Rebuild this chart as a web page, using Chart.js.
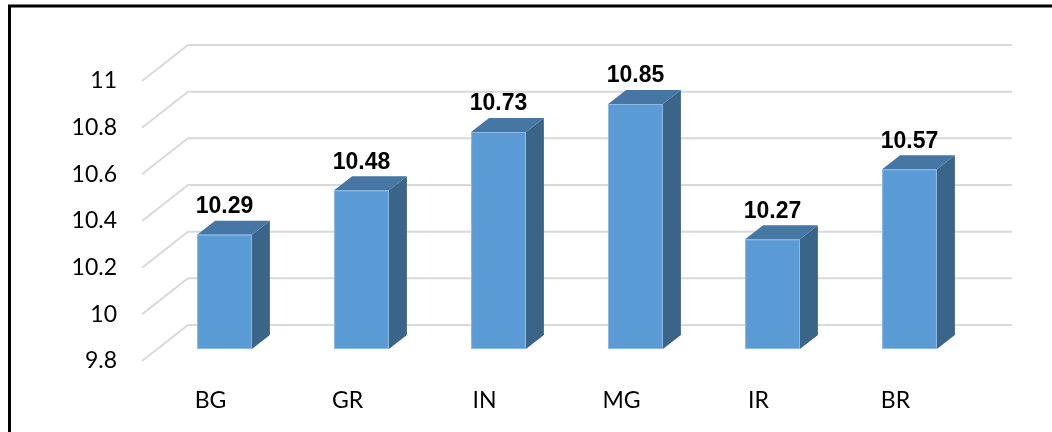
<!DOCTYPE html>
<html>
<head>
<meta charset="utf-8">
<script src="https://cdn.jsdelivr.net/npm/chart.js@4"></script>
<style>
  html, body { margin: 0; padding: 0; background: #fff; }
  #wrap { width: 1052px; height: 432px; }
</style>
</head>
<body>
<div id="wrap"><canvas id="barChart" width="1052" height="432"></canvas></div>
<script>
const categories = ['BG', 'GR', 'IN', 'MG', 'IR', 'BR'];
const values = [10.29, 10.48, 10.73, 10.85, 10.27, 10.57];
const yTicks = [9.8, 10, 10.2, 10.4, 10.6, 10.8, 11];

// 3D look (pixels)
const wallDepth = { x: 46, y: -36 };
const barFront = { x: 14, y: -12 };
const barDepth = { x: 18, y: -14 };

const fontFamily = 'Lato, "Open Sans", sans-serif';
const valueFont = 'bold 23px "Liberation Sans", Arial, sans-serif';

const frame3d = {
    id: 'frame3d',
    beforeDatasetsDraw(chart) {
        const ctx = chart.ctx;
        const area = chart.chartArea;
        const y = chart.scales.y;
        ctx.save();
        // frame
        ctx.strokeStyle = '#000';
        ctx.lineWidth = 3;
        ctx.beginPath();
        ctx.moveTo(9.5, 432);
        ctx.lineTo(9.5, 6);
        ctx.lineTo(1052, 6);
        ctx.stroke();
        // side wall + back wall gridlines
        ctx.strokeStyle = '#d9d9d9';
        ctx.lineWidth = 2;
        yTicks.forEach(t => {
            const py = y.getPixelForValue(t);
            ctx.beginPath();
            ctx.moveTo(area.left, py);
            ctx.lineTo(area.left + wallDepth.x, py + wallDepth.y);
            ctx.lineTo(area.right + wallDepth.x + 2, py + wallDepth.y);
            ctx.stroke();
        });
        ctx.restore();
    },
    afterDatasetsDraw(chart) {
        const ctx = chart.ctx;
        const y = chart.scales.y;
        const meta = chart.getDatasetMeta(0);
        const floor = y.getPixelForValue(yTicks[0]);
        ctx.save();
        meta.data.forEach((bar, i) => {
            const p = bar.getProps(['x', 'y', 'width'], true);
            const x0 = p.x - p.width / 2 + barFront.x;
            const x1 = p.x + p.width / 2 + barFront.x;
            const top = p.y + barFront.y;
            const bot = floor + barFront.y;
            const dx = barDepth.x, dy = barDepth.y;
            // side
            ctx.fillStyle = '#3a6488';
            ctx.beginPath();
            ctx.moveTo(x1, top);
            ctx.lineTo(x1 + dx, top + dy);
            ctx.lineTo(x1 + dx, bot + dy);
            ctx.lineTo(x1, bot);
            ctx.closePath();
            ctx.fill();
            // top
            ctx.fillStyle = '#4676a3';
            ctx.beginPath();
            ctx.moveTo(x0, top);
            ctx.lineTo(x0 + dx, top + dy);
            ctx.lineTo(x1 + dx, top + dy);
            ctx.lineTo(x1, top);
            ctx.closePath();
            ctx.fill();
            // front
            ctx.fillStyle = '#5b9bd5';
            ctx.fillRect(x0, top, x1 - x0, bot - top);
            ctx.strokeStyle = '#8dbbe6';
            ctx.lineWidth = 1;
            ctx.strokeRect(x0 + 0.5, top + 0.5, x1 - x0 - 1, bot - top - 1);
            // value label
            ctx.fillStyle = '#000';
            ctx.font = valueFont;
            ctx.textAlign = 'center';
            ctx.textBaseline = 'middle';
            ctx.fillText(values[i].toFixed(2), (x0 + x1) / 2, top - 28);
        });
        ctx.restore();
    }
};

new Chart(document.getElementById('barChart'), {
    type: 'bar',
    data: {
        labels: categories,
        datasets: [{
            data: values,
            backgroundColor: 'rgba(0,0,0,0)',
            borderWidth: 0,
            categoryPercentage: 1,
            barPercentage: 0.4
        }]
    },
    options: {
        responsive: false,
        animation: false,
        layout: { padding: { left: 10, right: 88, top: 81, bottom: 0 } },
        plugins: { legend: { display: false }, tooltip: { enabled: false } },
        scales: {
            x: {
                grid: { display: false, drawTicks: false },
                border: { display: false },
                ticks: { color: '#000', font: { family: fontFamily, size: 23 }, padding: 26 },
                afterFit(scale) { scale.height = 71; }
            },
            y: {
                min: 9.8,
                max: 11,
                grid: { display: false, drawTicks: false },
                border: { display: false },
                ticks: {
                    color: '#000',
                    font: { family: fontFamily, size: 23 },
                    padding: 25,
                    callback: v => String(v)
                },
                afterBuildTicks(scale) { scale.ticks = yTicks.map(v => ({ value: v })); },
                afterFit(scale) { scale.width = 132; }
            }
        }
    },
    plugins: [frame3d]
});
</script>
</body>
</html>
